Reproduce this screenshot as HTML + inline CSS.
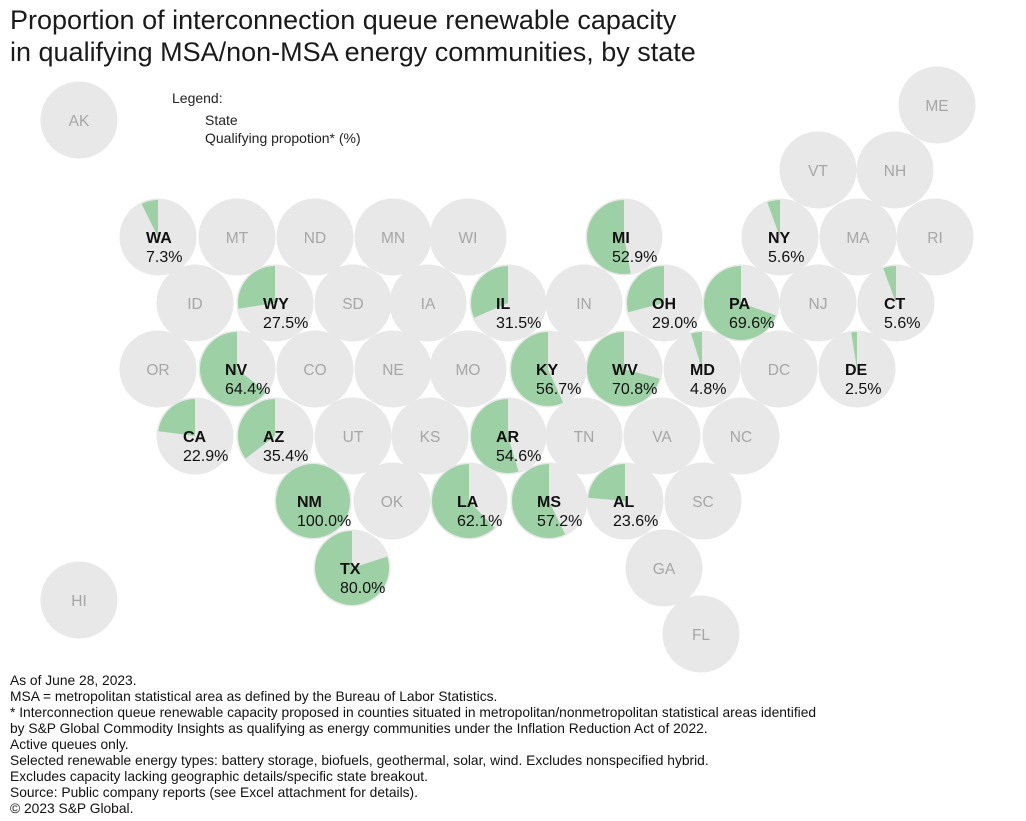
<!DOCTYPE html>
<html><head><meta charset="utf-8">
<style>
body{margin:0;background:#fff;font-family:"Liberation Sans",sans-serif;}
#wrap{position:relative;width:1026px;height:821px;overflow:hidden;}
#title{position:absolute;left:10px;top:4px;font-size:27px;line-height:32px;color:#1a1a1a;white-space:nowrap;}
#notes{position:absolute;left:10px;top:673px;font-size:13.8px;line-height:16px;color:#111;white-space:nowrap;}
svg{position:absolute;left:0;top:0;}
</style></head><body>
<div id="wrap">
<div id="title">Proportion of interconnection queue renewable capacity<br>in qualifying MSA/non-MSA energy communities, by state</div>
<svg id="map" width="1026" height="821">
<text x="172" y="103" font-size="14" fill="#222">Legend:</text>
<text x="205" y="125" font-size="14" fill="#222">State</text>
<text x="205" y="143" font-size="14" fill="#222">Qualifying propotion* (%)</text>
</svg>
<div id="notes">As of June 28, 2023.<br>MSA = metropolitan statistical area as defined by the Bureau of Labor Statistics.<br>* Interconnection queue renewable capacity proposed in counties situated in metropolitan/nonmetropolitan statistical areas identified<br>by S&amp;P Global Commodity Insights as qualifying as energy communities under the Inflation Reduction Act of 2022.<br>Active queues only.<br>Selected renewable energy types: battery storage, biofuels, geothermal, solar, wind. Excludes nonspecified hybrid.<br>Excludes capacity lacking geographic details/specific state breakout.<br>Source: Public company reports (see Excel attachment for details).<br>© 2023 S&amp;P Global.</div>
</div>
<script>
const states=["AK","ME","VT","NH","WA","MT","ND","MN","WI","MI","NY","MA","RI","ID","WY","SD","IA","IL","IN","OH","PA","NJ","CT","OR","NV","CO","NE","MO","KY","WV","MD","DC","DE","CA","AZ","UT","KS","AR","TN","VA","NC","NM","OK","LA","MS","AL","SC","TX","GA","HI","FL"];
const cols=[79,937,818,895,158,237,315,393,468,624,780,858,935,195,275,353,428,508,584,664,741,818,896,158,237,315,393,468,548,624,702,779,857,195,275,353,430,508,584,662,741,313,392,469,549,625,703,352,664,79,701];
const rows=[120,105,170,170,237,237,237,237,237,237,237,237,237,303,303,303,303,303,303,303,303,303,303,369,369,369,369,369,369,369,369,369,369,436,436,436,436,436,436,436,436,501,501,501,501,501,501,568,568,600,634];
const values=[null,null,null,null,7.3,null,null,null,null,52.9,5.6,null,null,null,27.5,null,null,31.5,null,29.0,69.6,null,5.6,null,64.4,null,null,null,56.7,70.8,4.8,null,2.5,22.9,35.4,null,null,54.6,null,null,null,100.0,null,62.1,57.2,23.6,null,80.0,null,null,null];
const svg=document.getElementById('map');
const NS='http://www.w3.org/2000/svg';
const R=38.5;
function mk(t,a){const e=document.createElementNS(NS,t);for(const k in a)e.setAttribute(k,a[k]);svg.appendChild(e);return e;}
states.forEach((s,i)=>{
  const cx=cols[i],cy=rows[i],v=values[i];
  const c=mk('circle',{cx:cx,cy:cy,r:R,fill:'#e8e8e8'});
  
  
  if(v===null){
    const t=mk('text',{x:cx,y:cy+6,'text-anchor':'middle','font-size':15.5,fill:'#a6a6a6'});
    t.textContent=s;
    
    
    return;
  }
  const pr=R-1.5;
  let w;
  if(v>=100){w=mk('circle',{cx:cx,cy:cy,r:pr,fill:'#9dd1a5'});}
  else{
    const a=v/100*2*Math.PI;
    const x2=cx-pr*Math.sin(a),y2=cy-pr*Math.cos(a);
    w=mk('path',{d:`M${cx},${cy}L${cx},${cy-pr}A${pr},${pr} 0 ${v>50?1:0} 0 ${x2},${y2}Z`,fill:'#9dd1a5'});
  }
  
  
  const lx=cx-(v>=100?16:12);
  const t=mk('text',{x:lx,y:cy+6,'font-size':16,'font-weight':'bold',fill:'#111'});
  t.textContent=s;
  
  
  const p=mk('text',{x:lx,y:cy+25,'font-size':16,fill:'#111'});
  p.textContent=v.toFixed(1)+'%';
  
  
});
</script>
</body></html>
